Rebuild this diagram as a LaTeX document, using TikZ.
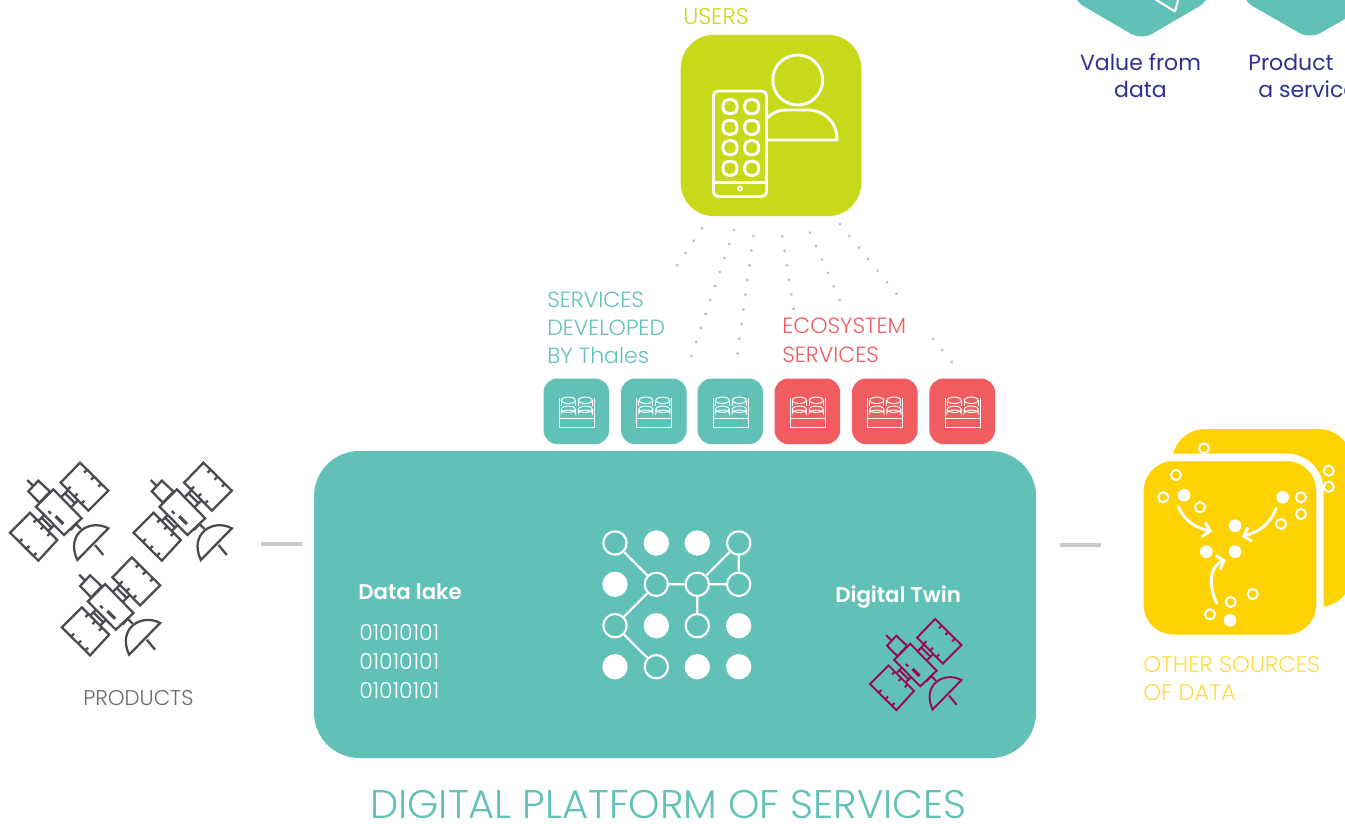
\documentclass[tikz,border=0pt]{standalone}
\usepackage{fontspec}
\setmainfont{Poppins Light}
\newfontfamily\boldf{Poppins SemiBold}
\newfontfamily\gothf{Poppins}
\usetikzlibrary{arrows.meta}
\definecolor{teal}{HTML}{61C1B7}
\definecolor{coral}{HTML}{F15C60}
\definecolor{lime}{HTML}{C8D81A}
\definecolor{sun}{HTML}{FFD204}
\definecolor{sunt}{HTML}{FFDB45}
\definecolor{satgrey}{HTML}{4A4A50}
\definecolor{twin}{HTML}{9B0A50}
\definecolor{navy}{HTML}{2E3192}
\definecolor{dotgrey}{HTML}{BDBDBD}
\definecolor{dashgrey}{HTML}{C9C9C9}
\definecolor{prodtext}{HTML}{6A6A6E}
\tikzset{
  lab/.style={anchor=base west,inner sep=0pt,font=\fontsize{#1}{#1}\selectfont},
  labc/.style={anchor=base,inner sep=0pt,font=\gothf\fontsize{#1}{#1}\selectfont,text=navy},
  svc/.style={rounded corners=10.5pt,minimum width=49.2pt,minimum height=49.2pt,inner sep=0pt,fill=#1},
  dotline/.style={color=dotgrey,line width=2.3pt,line cap=round,dash pattern=on 0.01pt off #1},
  gdash/.style={color=dashgrey,line width=3pt},
  opennode/.style={circle,draw=white,line width=1.6pt,minimum size=17.5pt,inner sep=0pt},
  fullnode/.style={circle,fill=white,minimum size=19pt,inner sep=0pt},
  netedge/.style={draw=white,line width=1.6pt},
  ring/.style={circle,draw=white,line width=1.5pt,minimum size=7.5pt,inner sep=0pt},
  blob/.style={circle,fill=white,minimum size=9.5pt,inner sep=0pt},
  flow/.style={draw=white,line width=2.2pt,line cap=round,-{Straight Barb[length=5pt,width=11pt,line width=2.2pt]}},
  sat/.pic={
    \draw (240,38)--(325,122)--(265,182)--(182,98)--cycle;
    \draw (90,188)--(172,270)--(115,332)--(30,248)--cycle;
    \draw (160,118)--(245,205)--(192,255)--(108,170)--cycle;
    \draw (115,92)--(150,125)--(118,158)--(85,124)--cycle;
    \draw (82,90)--(100,108);
    \draw (261,59)--(252,68) (282,80)--(273,89) (304,101)--(295,110);
    \draw (203,119)--(212,110) (224,140)--(233,131) (244,161)--(253,152);
    \draw (110,208)--(101,217) (131,229)--(122,238) (151,249)--(142,258);
    \draw (58,276)--(67,267) (79,297)--(88,288) (100,318)--(109,309);
    \draw (205,120)--(185,140) (235,150)--(215,170) (195,130)--(225,160);
    \draw (115,213)--(133,195) (145,243)--(163,225) (125,203)--(155,233);
    \draw (145,183)--(153,191);
    \draw[line width=2.4pt] (167,199)--(190,222);
    \draw (212,240)--(228,222)--(243,237);
    \draw (325,235) .. controls (270,205) and (195,250) .. (232,330) -- cycle;
    \draw (285,285)--(310,315);
  },
  tray/.pic={
    \draw[white,line width=.7pt] (-17,-13)--(-17,16)--(18,16)--(18,-13) (-17,7)--(18,7);
    \foreach \c in {-8,9}{
      \draw[white,line width=.7pt] (\c,-11) ellipse (7 and 3.2);
      \draw[white,line width=.7pt] (\c-7,-11)--(\c-7,-5) (\c+7,-11)--(\c+7,-5);
      \draw[white,line width=.7pt] (\c,-2) ellipse (7 and 3.2);
      \draw[white,line width=.7pt] (\c-7,-2)--(\c-7,2) arc (180:360:7 and 3.2)--(\c+7,-2);
    }
  }
}
\begin{document}
\begin{tikzpicture}[x=.75pt,y=-.75pt]
\useasboundingbox (0,0) rectangle (1345,824);
\clip (0,0) rectangle (1345,824);

% hexagons at the top
\path[fill=teal,rounded corners=9pt] (1073,-30)--(1073,0)--(1141.5,40)--(1210,0)--(1210,-30)--cycle;
\path[fill=teal,rounded corners=9pt] (1242,-30)--(1242,0)--(1310,39)--(1378,0)--(1378,-30)--cycle;
\draw[white,line width=1.6pt,line join=round] (1150,-4)--(1175,11.5)--(1179,-4);
\draw[white,line width=1.8pt] (1300,-3) arc (200:340:21 and 9);
\node[labc=16.5] (val1) at (1140.5,70) {Value from};
\node[labc=16.5] (val2) at (1140.5,98) {data};
\node[lab=16.5,text=navy,font=\gothf\fontsize{16.5}{16.5}\selectfont] (prod1) at (1248,70) {Product};
\node[lab=16.5,text=navy,font=\gothf\fontsize{16.5}{16.5}\selectfont] (prod2) at (1258,98) {a service};

% users
\node[lab=17,text=lime] (userslab) at (683,25) {USERS};
\node[fill=lime,rounded corners=25pt,minimum width=135.4pt,minimum height=136pt,inner sep=0pt] (users) at (771,125.5) {};
\begin{scope}[white,line width=2.2pt]
  \draw (797.7,80) circle (25);
  \draw (767,140)--(837,140) .. controls (837,120) and (822,110) .. (808,110) -- (787,110) .. controls (778,110) and (772,113) .. (767,118);
  \draw[fill=lime,rounded corners=3.5pt] (713.5,91) rectangle (766.5,196.5);
  \draw (713.5,182.5)--(766.5,182.5);
  \draw[line width=1.2pt] (740,188.5) circle (2);
  \foreach \px in {730,751.7}\foreach \py in {106.7,127.3,147.7,168.3}
    \draw[rounded corners=4pt] (\px-7,\py-7) rectangle (\px+7,\py+7);
\end{scope}

% dotted lines
\coordinate (d1a) at (702,228.3); \coordinate (d1b) at (669.3,277.3);
\coordinate (d2a) at (734,230); \coordinate (d2b) at (686.7,369.7);
\coordinate (d3a) at (753.3,236); \coordinate (d3b) at (735.7,367.3);
\coordinate (d4a) at (782.3,236.3); \coordinate (d4b) at (793.7,309.3);
\coordinate (d5a) at (810,232.7); \coordinate (d5b) at (839.7,300);
\coordinate (d6a) at (840,224.3); \coordinate (d6b) at (905.3,304.7);
\coordinate (d7a) at (933,338.7); \coordinate (d7b) at (951.7,361.7);
\draw[dotline=11.1pt] (d1a)--(d1b);
\draw[dotline=11.06pt] (d2a)--(d2b);
\draw[dotline=11.1pt] (d3a)--(d3b);
\draw[dotline=11pt] (d4a)--(d4b);
\draw[dotline=11pt] (d5a)--(d5b);
\draw[dotline=11.17pt] (d6a)--(d6b);
\draw[dotline=11.1pt] (d7a)--(d7b);

% service labels
\node[lab=16.5,text=teal] (s1) at (547,307) {SERVICES};
\node[lab=16.5,text=teal] (s2) at (547,335.5) {DEVELOPED};
\node[lab=16.5,text=teal] (s3) at (547,363) {BY Thales};
\node[lab=16.5,text=coral] (e1) at (782,333) {ECOSYSTEM};
\node[lab=16.5,text=coral] (e2) at (782,362) {SERVICES};

% service boxes
\foreach \n/\x/\c in {a/576.3/teal,b/653.8/teal,c/730.3/teal,d/807.3/coral,e/884.8/coral,f/962.2/coral}{
  \node[svc=\c] (box\n) at (\x,411.3) {};
  \pic at (\x,411.3) {tray};
}

% platform
\node[fill=teal,rounded corners=34pt,minimum width=541.5pt,minimum height=230.25pt,inner sep=0pt] (main) at (675,604.5) {};

\node[lab=16.5,text=white,font=\boldf\fontsize{16}{16}\selectfont] (dl) at (358,599) {Data lake};
\node[lab=16.5,text=white] (b1) at (359,640) {01010101};
\node[lab=16.5,text=white] (b2) at (359,669) {01010101};
\node[lab=16.5,text=white] (b3) at (359,698) {01010101};
\node[lab=16.5,text=white,font=\boldf\fontsize{16}{16}\selectfont] (dt) at (835,602) {Digital Twin};

% network
\node[opennode] (n11) at (615,543) {};
\node[fullnode] (n12) at (656.3,543) {};
\node[fullnode] (n13) at (697.3,543) {};
\node[opennode] (n14) at (738.7,543) {};
\node[fullnode] (n21) at (615,584.3) {};
\node[opennode] (n22) at (656.3,584.3) {};
\node[opennode] (n23) at (697.3,584.3) {};
\node[opennode] (n24) at (738.7,584.3) {};
\node[opennode] (n31) at (615,625.7) {};
\node[fullnode] (n32) at (656.3,625.7) {};
\node[opennode] (n33) at (697.3,625.7) {};
\node[fullnode] (n34) at (738.7,625.7) {};
\node[fullnode] (n41) at (615,666.7) {};
\node[opennode] (n42) at (656.3,666.7) {};
\node[fullnode] (n43) at (697.3,666.7) {};
\node[fullnode] (n44) at (738.7,666.7) {};
\draw[netedge] (n11)--(n22) (n22)--(n23) (n23)--(n24) (n23)--(n14) (n14)--(n24) (n22)--(n31) (n31)--(n42) (n23)--(n33);

\pic[color=twin,line width=1.45pt,scale=.31] at (860.7,607.2) {sat};

% products
\pic[color=satgrey,line width=1.7pt,scale=.3333] at (0,450) {sat};
\pic[color=satgrey,line width=1.7pt,scale=.3333] at (123.5,450) {sat};
\pic[color=satgrey,line width=1.7pt,scale=.3333] at (51.8,544.7) {sat};
\node[lab=16,text=prodtext] (prods) at (83,705) {PRODUCTS};

% short connectors
\coordinate (g1a) at (261,543.5); \coordinate (g1b) at (302,543.5);
\coordinate (g2a) at (1060,544.5); \coordinate (g2b) at (1101,544.5);
\draw[gdash] (g1a)--(g1b);
\draw[gdash] (g2a)--(g2b);

% other sources
\node[fill=sun,rounded corners=25pt,minimum width=135pt,minimum height=133.5pt,inner sep=0pt] (back) at (1262,518) {};
\node[ring] (br1) at (1204,448.3) {};
\node[ring] (br2) at (1328.7,470.7) {};
\node[ring] (br3) at (1328.7,486.7) {};
\node[fill=sun,draw=white,line width=5.5pt,rounded corners=25pt,minimum width=135pt,minimum height=135.7pt,inner sep=0pt] (front) at (1230,547.8) {};
\node[ring] (r1) at (1176,475) {};
\node[ring] (r2) at (1163.3,497.3) {};
\node[ring] (r3) at (1200,507.3) {};
\node[ring] (r4) at (1301,497.3) {};
\node[ring] (r5) at (1301,514) {};
\node[ring] (r6) at (1281,524) {};
\node[ring] (r7) at (1230.7,602) {};
\node[ring] (r8) at (1252.7,594) {};
\node[ring] (r9) at (1210,614.3) {};
\node[blob] (f1) at (1184,495.3) {};
\node[blob] (f2) at (1282.7,497.3) {};
\node[blob] (f3) at (1235,525.7) {};
\node[blob] (f4) at (1206.3,551.7) {};
\node[blob] (f5) at (1235,551.7) {};
\node[blob] (f6) at (1230,620.3) {};
\coordinate (a1) at (1178.3,506.7); \coordinate (a1e) at (1212,531.5);
\coordinate (a2) at (1276,508.3); \coordinate (a2e) at (1241.7,536.7);
\coordinate (a3) at (1216.7,603.3); \coordinate (a3e) at (1226,560);
\draw[flow] (a1) .. controls (1185,522) and (1197,528) .. (a1e);
\draw[flow] (a2) .. controls (1270,525) and (1258,532) .. (a2e);
\draw[flow] (a3) .. controls (1208,585) and (1210,565) .. (a3e);
\node[lab=17,text=sunt] (o1) at (1143,672) {OTHER SOURCES};
\node[lab=17,text=sunt] (o2) at (1143,700) {OF DATA};

\node[lab=30,text=teal] (title) at (370,818) {DIGITAL PLATFORM OF SERVICES};
\end{tikzpicture}
\end{document}
